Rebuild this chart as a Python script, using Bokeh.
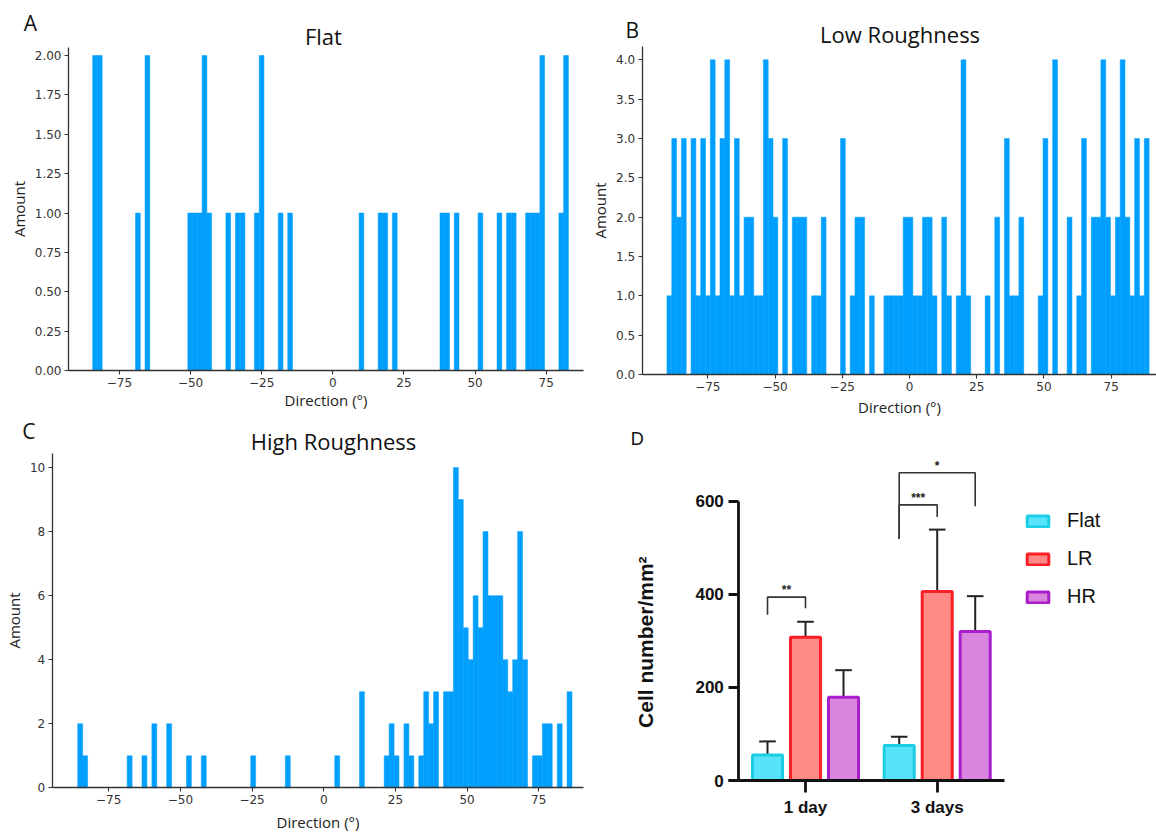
import numpy as np
from bokeh.plotting import figure
from bokeh.models import (FixedTicker, Legend, LegendItem, Range1d, PrintfTickFormatter)
from bokeh.layouts import column, row
from bokeh.embed import file_html
from bokeh.resources import INLINE
from bokeh.core.properties import value

# ---------------- data ----------------
# histogram counts (100 bins each) and the data range covered by the bins
flat_counts = [2, 2, 0, 0, 0, 0, 0, 0, 0, 1,
               0, 2, 0, 0, 0, 0, 0, 0, 0, 0,
               1, 1, 1, 2, 1, 0, 0, 0, 1, 0,
               1, 1, 0, 0, 1, 2, 0, 0, 0, 1,
               0, 1, 0, 0, 0, 0, 0, 0, 0, 0,
               0, 0, 0, 0, 0, 0, 1, 0, 0, 0,
               1, 1, 0, 1, 0, 0, 0, 0, 0, 0,
               0, 0, 0, 1, 1, 0, 1, 0, 0, 0,
               0, 1, 0, 0, 0, 1, 0, 1, 1, 0,
               0, 1, 1, 1, 2, 0, 0, 0, 1, 2]
flat_range = (-84.4, 82.8)

low_counts = [1, 3, 2, 3, 0, 3, 1, 3, 1, 4,
              1, 3, 4, 1, 3, 1, 2, 2, 1, 1,
              4, 3, 2, 0, 3, 0, 2, 2, 2, 0,
              1, 1, 2, 0, 0, 0, 3, 0, 1, 2,
              2, 0, 1, 0, 0, 1, 1, 1, 1, 2,
              2, 1, 1, 2, 2, 1, 0, 2, 1, 0,
              1, 4, 1, 0, 0, 0, 1, 0, 2, 0,
              3, 1, 1, 2, 0, 0, 0, 1, 3, 0,
              4, 0, 0, 2, 0, 1, 3, 0, 2, 2,
              4, 2, 1, 2, 4, 2, 1, 3, 1, 3]
low_range = (-90.2, 89.1)

high_counts = [2, 1, 0, 0, 0, 0, 0, 0, 0, 0,
               1, 0, 0, 1, 0, 2, 0, 0, 2, 0,
               0, 0, 1, 0, 0, 1, 0, 0, 0, 0,
               0, 0, 0, 0, 0, 1, 0, 0, 0, 0,
               0, 0, 1, 0, 0, 0, 0, 0, 0, 0,
               0, 0, 1, 0, 0, 0, 0, 3, 0, 0,
               0, 0, 1, 2, 1, 0, 2, 1, 0, 1,
               3, 2, 3, 0, 3, 3, 10, 9, 5, 4,
               6, 5, 8, 6, 6, 6, 4, 3, 4, 8,
               4, 0, 1, 1, 2, 2, 0, 2, 0, 3]
high_range = (-85.8, 86.6)

direction_ticks = [-75, -50, -25, 0, 25, 50, 75]
flat_yticks = [0, 0.25, 0.5, 0.75, 1.0, 1.25, 1.5, 1.75, 2.0]
low_yticks = [0, 0.5, 1.0, 1.5, 2.0, 2.5, 3.0, 3.5, 4.0]
high_yticks = [0, 2, 4, 6, 8, 10]

days = ["1 day", "3 days"]
series = ["Flat", "LR", "HR"]
flat_mean = [55, 75]
flat_sd = [29, 19]
lr_mean = [308, 406]
lr_sd = [33, 133]
hr_mean = [179, 320]
hr_sd = [58, 76]
cell_yticks = [0, 200, 400, 600]
# significance brackets: day index, series a, series b, bracket y, leg ends, label
sig_day = [0, 1, 1]
sig_a = [0, 0, 0]
sig_b = [1, 1, 2]
sig_y = [394, 592, 661]
sig_ya = [356, 519, 519]
sig_yb = [370, 566, 589]
sig_label = ["**", "***", "*"]

# ---------------- styles ----------------
HIST_BLUE = "#009ffd"
SPINE = "#333333"
TICK_FONT = "DejaVu Sans"
LAB_FONT = "Open Sans"


def minus(v):
    return ("\u2212" + str(abs(v))) if v < 0 else str(v)


def make_fig(W, H, box, xlim, ylim):
    """Figure whose frame fills the canvas; the axes are pinned so that the
    plotting area (box = left, right, top, bottom in px) shows xlim x ylim."""
    left, right, top, bottom = box
    sx = (xlim[1] - xlim[0]) / (right - left)
    sy = (ylim[1] - ylim[0]) / (bottom - top)
    xr = Range1d(xlim[0] - left * sx, xlim[1] + (W - right) * sx)
    yr = Range1d(ylim[0] - (H - bottom) * sy, ylim[1] + top * sy)
    p = figure(width=W, height=H, x_range=xr, y_range=yr, output_backend="svg",
               toolbar_location=None, min_border_left=0, min_border_right=0,
               min_border_top=0, min_border_bottom=0)
    p.outline_line_color = None
    p.xgrid.visible = False
    p.ygrid.visible = False
    p.xaxis.fixed_location = ylim[0]
    p.yaxis.fixed_location = xlim[0]
    return p


def hist_panel(W, H, box, xlim, ylim, counts, rng, title, title_x, title_dy,
               letter, letter_off, yticks, yfmt, xlab_standoff):
    p = make_fig(W, H, box, xlim, ylim)
    edges = np.linspace(rng[0], rng[1], len(counts) + 1)
    c = np.array(counts)
    m = c > 0
    p.quad(left=edges[:-1][m], right=edges[1:][m], bottom=0, top=c[m],
           fill_color=HIST_BLUE, line_color=HIST_BLUE, line_width=0.5)
    for ax in (p.xaxis[0], p.yaxis[0]):
        ax.axis_line_color = SPINE
        ax.axis_line_width = 1.3
        ax.major_tick_line_color = SPINE
        ax.major_tick_line_width = 1.1
        ax.major_tick_out = 4
        ax.major_tick_in = 0
        ax.minor_tick_line_color = None
        ax.major_label_text_font = TICK_FONT
        ax.major_label_text_font_size = "12px"
        ax.major_label_text_color = "#333333"
        ax.major_label_standoff = 3
        ax.axis_label_text_font = LAB_FONT
        ax.axis_label_text_font_size = "15px"
        ax.axis_label_text_font_style = "normal"
        ax.axis_label_text_color = "#222222"
    p.xaxis.bounds = xlim
    p.yaxis.bounds = ylim
    p.xaxis.ticker = FixedTicker(ticks=direction_ticks)
    p.xaxis.major_label_overrides = {t: minus(t) for t in direction_ticks}
    p.xaxis.axis_label = "Direction (\u00b0)"
    p.xaxis.axis_label_standoff = xlab_standoff
    p.yaxis.ticker = FixedTicker(ticks=yticks)
    if yfmt:
        p.yaxis.formatter = PrintfTickFormatter(format=yfmt)
    p.yaxis.axis_label = "Amount"
    p.yaxis.axis_label_standoff = 3
    # title, just above the plotting area
    p.text(x=[title_x], y=[ylim[1]], text=[title], y_offset=title_dy,
           text_align="center", text_baseline="middle",
           text_font=value(LAB_FONT), text_font_size="22px", text_color="#111111")
    # panel letter
    p.text(x=[xlim[0]], y=[ylim[1]], text=[letter], x_offset=letter_off[0],
           y_offset=letter_off[1], text_align="center", text_baseline="middle",
           text_font=value(LAB_FONT), text_font_size="21px", text_color="#111111")
    return p


H1 = 417
H2 = 834 - H1
pA = hist_panel(588, H1, (68, 583, 46.7, 370), (-92.9, 88.1), (0, 2.053),
                flat_counts, flat_range, "Flat", -3.3, -11.7, "A", (-38, -24.5),
                flat_yticks, "%.2f", 0)
pB = hist_panel(568, H1, (53.7, 568, 46, 374), (-99.4, 91.85), (0, 4.169),
                low_counts, low_range, "Low Roughness", -3.5, -12.5, "B", (-10, -17),
                low_yticks, "%.1f", 3)
pC = hist_panel(600, H2, (51.7, 582.7, 453.3 - H1, 787.3 - H1), (-94.7, 90.5), (0, 10.43),
                high_counts, high_range, "High Roughness", 3.4, -13.3, "C", (-23.4, -22.5),
                high_yticks, None, 5)

# ---------------- panel D ----------------
off = [-0.2885, 0.0, 0.2885]
means = [flat_mean, lr_mean, hr_mean]
sds = [flat_sd, lr_sd, hr_sd]
fills = ["#57e4fb", "#fd8a84", "#d985de"]
lines = ["#1ccde3", "#fd1f28", "#a81fcb"]

xlimD = (-0.5065, 1.511)
ylimD = (0, 600)
pD = make_fig(556, H2, (138.3, 404, 500.7 - H1, 780 - H1), xlimD, ylimD)

bar_renderers = []
for k in range(3):
    xs = [g + off[k] for g in range(len(days))]
    tops = [m + s for m, s in zip(means[k], sds[k])]
    pD.segment(x0=xs, y0=means[k], x1=xs, y1=tops, line_color="#222222", line_width=2)
    pD.segment(x0=[x - 0.063 for x in xs], y0=tops, x1=[x + 0.063 for x in xs],
               y1=tops, line_color="#222222", line_width=2)
    r = pD.vbar(x=xs, top=means[k], bottom=0, width=0.228, fill_color=fills[k],
                line_color=lines[k], line_width=3)
    bar_renderers.append(r)

# significance brackets
bx, by = [], []
for d, a, b, y, ya, yb in zip(sig_day, sig_a, sig_b, sig_y, sig_ya, sig_yb):
    xa, xb = d + off[a], d + off[b]
    bx.append([xa, xa, xb, xb])
    by.append([ya, y, y, yb])
pD.multi_line(xs=bx, ys=by, line_color="#333333", line_width=1.6)
tx = [(2 * d + off[a] + off[b]) / 2 for d, a, b in zip(sig_day, sig_a, sig_b)]
pD.text(x=tx, y=sig_y, text=sig_label, text_align="center", text_baseline="bottom",
        text_font=value("Liberation Sans"), text_font_size="12px",
        text_font_style="bold", text_color="#222222")

for ax in (pD.xaxis[0], pD.yaxis[0]):
    ax.axis_line_color = "#111111"
    ax.axis_line_width = 2.8
    ax.major_tick_line_color = "#111111"
    ax.major_tick_line_width = 2.8
    ax.major_tick_in = 0
    ax.minor_tick_line_color = None
    ax.major_label_text_font = "Liberation Sans"
    ax.major_label_text_font_size = "17px"
    ax.major_label_text_font_style = "bold"
    ax.major_label_text_color = "#111111"
pD.yaxis.ticker = FixedTicker(ticks=cell_yticks)
pD.yaxis.bounds = ylimD
pD.yaxis.major_tick_out = 10
pD.yaxis.major_label_standoff = 5
pD.xaxis.ticker = FixedTicker(ticks=list(range(len(days))))
pD.xaxis.major_label_overrides = {i: d for i, d in enumerate(days)}
pD.xaxis.bounds = (xlimD[0] - 0.076, xlimD[1])
pD.xaxis.major_tick_out = 12
pD.xaxis.major_label_standoff = 5

pD.text(x=[xlimD[0]], y=[0], text=["Cell number/mm\u00b2"], angle=np.pi / 2,
        x_offset=-93.3, y_offset=-138.3, text_align="center", text_baseline="middle",
        text_font=value("Liberation Sans"), text_font_size="21px",
        text_font_style="bold", text_color="#111111")
pD.text(x=[xlimD[0]], y=[ylimD[1]], text=["D"], x_offset=-101.6, y_offset=-62.4,
        text_align="center", text_baseline="middle",
        text_font=value("Liberation Sans"), text_font_size="18px", text_color="#111111")

legend = Legend(items=[LegendItem(label=s, renderers=[r]) for s, r in zip(series, bar_renderers)],
                location=(424, 226), orientation="vertical", glyph_width=27,
                glyph_height=14, label_standoff=16, spacing=15, padding=0, margin=0,
                border_line_color=None, background_fill_alpha=0,
                label_text_font="Liberation Sans", label_text_font_size="20px",
                label_text_color="#111111")
pD.add_layout(legend)

layout = column(row(pA, pB, spacing=0), row(pC, pD, spacing=0), spacing=0)

open("out.html", "w").write(file_html(layout, INLINE))
